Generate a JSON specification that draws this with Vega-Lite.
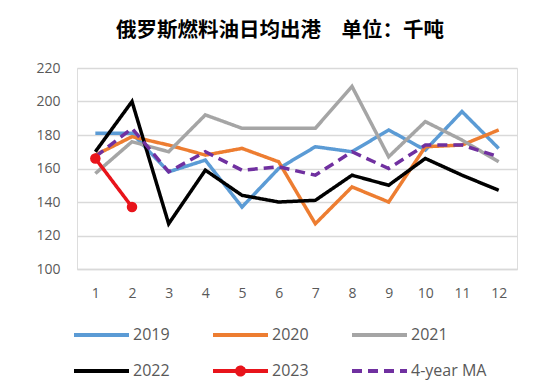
{
  "$schema": "https://vega.github.io/schema/vega-lite/v6.json",
  "width": 440,
  "height": 201,
  "autosize": "none",
  "padding": {"left": 77, "top": 68, "right": 33, "bottom": 122},
  "background": "white",
  "title": {
    "text": "俄罗斯燃料油日均出港　单位：千吨",
    "font": "Noto Sans CJK SC",
    "fontSize": 20.5,
    "fontWeight": "bold",
    "color": "#000000",
    "anchor": "middle",
    "dx": -17,
    "offset": 20
  },
  "data": {
    "values": [
      {"month": 1, "series": "2019", "value": 181},
      {"month": 2, "series": "2019", "value": 181},
      {"month": 3, "series": "2019", "value": 158},
      {"month": 4, "series": "2019", "value": 165},
      {"month": 5, "series": "2019", "value": 137},
      {"month": 6, "series": "2019", "value": 160},
      {"month": 7, "series": "2019", "value": 173},
      {"month": 8, "series": "2019", "value": 170},
      {"month": 9, "series": "2019", "value": 183},
      {"month": 10, "series": "2019", "value": 171},
      {"month": 11, "series": "2019", "value": 194},
      {"month": 12, "series": "2019", "value": 172},
      {"month": 1, "series": "2020", "value": 168},
      {"month": 2, "series": "2020", "value": 179},
      {"month": 3, "series": "2020", "value": 174},
      {"month": 4, "series": "2020", "value": 168},
      {"month": 5, "series": "2020", "value": 172},
      {"month": 6, "series": "2020", "value": 164},
      {"month": 7, "series": "2020", "value": 127},
      {"month": 8, "series": "2020", "value": 149},
      {"month": 9, "series": "2020", "value": 140},
      {"month": 10, "series": "2020", "value": 173},
      {"month": 11, "series": "2020", "value": 174},
      {"month": 12, "series": "2020", "value": 183},
      {"month": 1, "series": "2021", "value": 157},
      {"month": 2, "series": "2021", "value": 176},
      {"month": 3, "series": "2021", "value": 170},
      {"month": 4, "series": "2021", "value": 192},
      {"month": 5, "series": "2021", "value": 184},
      {"month": 6, "series": "2021", "value": 184},
      {"month": 7, "series": "2021", "value": 184},
      {"month": 8, "series": "2021", "value": 209},
      {"month": 9, "series": "2021", "value": 167},
      {"month": 10, "series": "2021", "value": 188},
      {"month": 11, "series": "2021", "value": 177},
      {"month": 12, "series": "2021", "value": 164},
      {"month": 1, "series": "2022", "value": 170},
      {"month": 2, "series": "2022", "value": 200},
      {"month": 3, "series": "2022", "value": 127},
      {"month": 4, "series": "2022", "value": 159},
      {"month": 5, "series": "2022", "value": 144},
      {"month": 6, "series": "2022", "value": 140},
      {"month": 7, "series": "2022", "value": 141},
      {"month": 8, "series": "2022", "value": 156},
      {"month": 9, "series": "2022", "value": 150},
      {"month": 10, "series": "2022", "value": 166},
      {"month": 11, "series": "2022", "value": 156},
      {"month": 12, "series": "2022", "value": 147},
      {"month": 1, "series": "2023", "value": 166},
      {"month": 2, "series": "2023", "value": 137},
      {"month": 1, "series": "4-year MA", "value": 167},
      {"month": 2, "series": "4-year MA", "value": 184},
      {"month": 3, "series": "4-year MA", "value": 158},
      {"month": 4, "series": "4-year MA", "value": 170},
      {"month": 5, "series": "4-year MA", "value": 159},
      {"month": 6, "series": "4-year MA", "value": 161},
      {"month": 7, "series": "4-year MA", "value": 156},
      {"month": 8, "series": "4-year MA", "value": 170},
      {"month": 9, "series": "4-year MA", "value": 160},
      {"month": 10, "series": "4-year MA", "value": 174},
      {"month": 11, "series": "4-year MA", "value": 174},
      {"month": 12, "series": "4-year MA", "value": 167}
    ]
  },
  "encoding": {
    "x": {
      "field": "month",
      "type": "ordinal",
      "scale": {"type": "point", "padding": 0.5},
      "axis": {
        "title": null,
        "labelAngle": 0,
        "labelFont": "Open Sans",
        "labelFontSize": 14,
        "labelColor": "#595959",
        "labelPadding": 17,
        "ticks": false,
        "domain": true,
        "domainColor": "#d9d9d9",
        "domainWidth": 1.5,
        "grid": false
      }
    },
    "y": {
      "field": "value",
      "type": "quantitative",
      "scale": {"domain": [100, 220], "nice": false, "zero": false},
      "axis": {
        "title": null,
        "values": [100, 120, 140, 160, 180, 200, 220],
        "labelFont": "Open Sans",
        "labelFontSize": 14,
        "labelColor": "#595959",
        "labelPadding": 17,
        "ticks": false,
        "domain": false,
        "grid": true,
        "gridColor": "#d9d9d9",
        "gridWidth": 1.5
      }
    }
  },
  "layer": [
    {
      "mark": {"type": "line", "strokeWidth": 3.5, "strokeJoin": "miter"},
      "encoding": {
        "color": {
          "field": "series",
          "type": "nominal",
          "scale": {
            "domain": ["2019", "2020", "2021", "2022", "2023", "4-year MA"],
            "range": ["#5b9bd5", "#ed7d31", "#a5a5a5", "#000000", "#e8141b", "#7030a0"]
          },
          "legend": {
            "title": null,
            "orient": "none",
            "legendX": -5,
            "legendY": 255,
            "direction": "horizontal",
            "columns": 3,
            "columnPadding": 35,
            "rowPadding": 16,
            "symbolType": "stroke",
            "symbolSize": 400,
            "symbolStrokeWidth": 4,
            "labelFont": "Open Sans",
            "labelFontSize": 16,
            "labelColor": "#595959",
            "labelOffset": 37,
            "encode": {
              "symbols": {
                "update": {
                  "shape": [
                    {"test": "datum.value === '2023'", "value": "M-1,0H4.5M1.4,0A0.35,0.35 0 1,1 2.1,0A0.35,0.35 0 1,1 1.4,0Z"},
                    {"value": "M-1,0H4.5"}
                  ],
                  "fill": [
                    {"test": "datum.value === '2023'", "value": "#e8141b"},
                    {"value": "transparent"}
                  ],
                  "strokeDash": [
                    {"test": "datum.value === '4-year MA'", "value": [12, 7]},
                    {"value": [1, 0]}
                  ]
                }
              }
            }
          }
        },
        "strokeDash": {
          "field": "series",
          "type": "nominal",
          "scale": {
            "domain": ["2019", "2020", "2021", "2022", "2023", "4-year MA"],
            "range": [[1, 0], [1, 0], [1, 0], [1, 0], [1, 0], [10, 6]]
          },
          "legend": null
        }
      }
    },
    {
      "transform": [{"filter": "datum.series === '2023'"}],
      "mark": {"type": "point", "filled": true, "size": 110, "opacity": 1, "color": "#e8141b"}
    }
  ]
}
